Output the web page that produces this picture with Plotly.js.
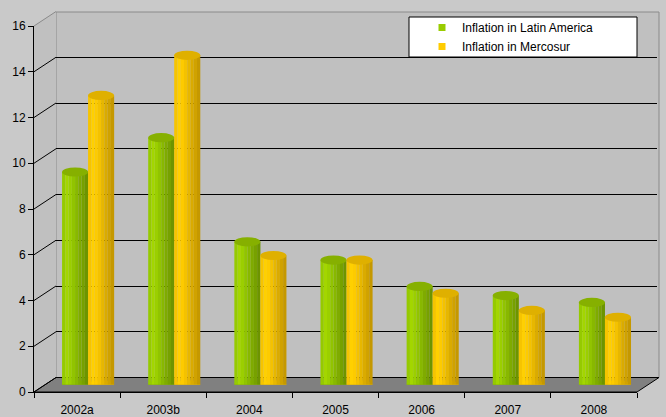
<!DOCTYPE html>
<html>
<head>
<meta charset="utf-8">
<script src="https://cdn.plot.ly/plotly-3.0.1.min.js"></script>
<style>html,body{margin:0;padding:0;background:#c9c9c9;}#chart{width:666px;height:417px;}</style>
</head>
<body>
<div id="chart"></div>
<script>
// ---- data ----
var categories = ['2002a', '2003b', '2004', '2005', '2006', '2007', '2008'];
var latinAmerica = [9.3, 10.8, 6.25, 5.45, 4.3, 3.9, 3.6];
var mercosur = [12.65, 14.4, 5.65, 5.45, 4.0, 3.25, 2.95];
var seriesNames = ['Inflation in Latin America', 'Inflation in Mercosur'];
var yTicks = [0, 2, 4, 6, 8, 10, 12, 14, 16];

// ---- styling ----
var W = 666, H = 417;
var mL = 34, mR = 9, mT = 11, mB = 25;
var pw = W - mL - mR, ph = H - mT - mB;
function px(x) { return (x - mL) / pw; }
function py(y) { return (H - mB - y) / ph; }
var depthX = 22, depthY = 14.5;
var frontRight = 637, frontTop = 26, frontBottom = 392;
var pxPerUnit = (frontBottom - frontTop) / 16;

var greenStripes = ['#95ca00', '#a3d600', '#9bcf00', '#91c400', '#88b800', '#7fab00', '#77a100', '#6d9400'];
var yellowStripes = ['#f6c400', '#ffd000', '#fdcb00', '#f4c200', '#e7b700', '#daab00', '#d0a200', '#c59800'];
var greenTop = '#86b000', yellowTop = '#dfb000';
var cylW = 0.302;
var traces = [];

// axis carriers (no visible marks)
traces.push({type: 'scatter', mode: 'none', x: categories, y: categories.map(function () { return null; }),
  xaxis: 'x', yaxis: 'y', showlegend: false, hoverinfo: 'skip'});
traces.push({type: 'scatter', mode: 'none', x: [null], y: [null],
  xaxis: 'x2', yaxis: 'y2', showlegend: false, hoverinfo: 'skip'});

function addCylinder(vals, stripes, startOff) {
  var n = stripes.length, sw = cylW / n;
  for (var i = 0; i < n; i++) {
    traces.push({
      type: 'bar', x: categories, y: vals, xaxis: 'x3', yaxis: 'y3',
      width: sw * 1.02, offset: startOff + i * sw,
      marker: {color: stripes[i], line: {width: 0}},
      showlegend: false, hoverinfo: 'skip'
    });
  }
}
addCylinder(latinAmerica, greenStripes, -cylW);
addCylinder(mercosur, yellowStripes, 0);

// legend entries
traces.push({type: 'scatter', mode: 'markers', x: [null], y: [null], name: seriesNames[0],
  marker: {symbol: 'square', size: 7, color: '#99cc00'}, xaxis: 'x3', yaxis: 'y3'});
traces.push({type: 'scatter', mode: 'markers', x: [null], y: [null], name: seriesNames[1],
  marker: {symbol: 'square', size: 7, color: '#ffcc00'}, xaxis: 'x3', yaxis: 'y3'});

var shapes = [];
// back wall
shapes.push({type: 'rect', xref: 'paper', yref: 'paper', layer: 'below',
  x0: px(frontRight + depthX) , x1: px(mL + depthX), y0: py(frontBottom - depthY), y1: py(frontTop - depthY + 0.5),
  fillcolor: '#c0c0c0', line: {color: '#8a8a8a', width: 1}});
// side wall
shapes.push({type: 'path', xref: 'paper', yref: 'paper', layer: 'below',
  path: 'M' + px(34) + ',' + py(frontBottom) + ' L' + px(34) + ',' + py(frontTop) + ' L' + px(34 + depthX) + ',' + py(frontTop - depthY) +
        ' L' + px(34 + depthX) + ',' + py(frontBottom - depthY) + ' Z',
  fillcolor: '#c0c0c0', line: {width: 0}});
// floor
shapes.push({type: 'path', xref: 'paper', yref: 'paper', layer: 'below',
  path: 'M' + px(34) + ',' + py(frontBottom) + ' L' + px(frontRight) + ',' + py(frontBottom) + ' L' + px(frontRight + depthX) + ',' + py(frontBottom - depthY) +
        ' L' + px(34 + depthX) + ',' + py(frontBottom - depthY) + ' Z',
  fillcolor: '#808080', line: {color: '#000000', width: 1}});
// side wall grid diagonals
yTicks.forEach(function (v) {
  var yf = frontBottom - v * pxPerUnit;
  shapes.push({type: 'line', xref: 'paper', yref: 'paper', layer: 'below',
    x0: px(34), y0: py(yf), x1: px(34 + depthX), y1: py(yf - depthY),
    line: {color: v === 16 ? '#8a8a8a' : '#000000', width: 1}});
});
// cylinder end caps (ellipses)
var hh = 4.6 / pxPerUnit;
function caps(vals, off, bodyColor, topColor) {
  for (var i = 0; i < vals.length; i++) {
    shapes.push({type: 'circle', xref: 'x3', yref: 'y3', layer: 'below',
      x0: i + off, x1: i + off + cylW, y0: -hh, y1: hh, fillcolor: bodyColor, line: {width: 0}});
    shapes.push({type: 'circle', xref: 'x3', yref: 'y3', layer: 'above',
      x0: i + off, x1: i + off + cylW, y0: vals[i] - hh, y1: vals[i] + hh, fillcolor: topColor, line: {width: 0}});
  }
}
caps(latinAmerica, -cylW, '#86b400', greenTop);
caps(mercosur, 0, '#e8b800', yellowTop);
// legend box
shapes.push({type: 'rect', xref: 'paper', yref: 'paper', layer: 'above',
  x0: px(409), x1: px(637), y0: py(57), y1: py(17), fillcolor: '#ffffff', line: {color: '#000000', width: 1}});

var font = {family: 'Arial, "Liberation Sans", sans-serif', size: 12, color: '#000000'};

var layout = {
  width: W, height: H,
  margin: {l: mL, r: mR, t: mT, b: mB, pad: 0},
  paper_bgcolor: '#c9c9c9', plot_bgcolor: 'rgba(0,0,0,0)',
  font: font, barmode: 'overlay', showlegend: true,
  xaxis: {domain: [0, px(frontRight)], anchor: 'y', type: 'category', categoryorder: 'array', categoryarray: categories,
    range: [-0.5, categories.length - 0.5], tickson: 'boundaries', ticks: 'outside', ticklen: 5, tickcolor: '#000',
    showline: true, linecolor: '#000', linewidth: 1, showgrid: false, zeroline: false, ticklabelstandoff: 7,
    tickfont: font, fixedrange: true},
  yaxis: {domain: [0, py(frontTop)], anchor: 'x', range: [0, 16], tickvals: yTicks, ticks: 'outside', ticklen: 5,
    tickcolor: '#000', showline: true, linecolor: '#000', linewidth: 1, showgrid: false, zeroline: false,
    tickfont: font, fixedrange: true},
  xaxis2: {domain: [px(34 + depthX), px(frontRight + depthX)], anchor: 'y2', range: [0, 1], showgrid: false, zeroline: false,
    showticklabels: false, ticks: '', showline: false, fixedrange: true},
  yaxis2: {domain: [py(frontBottom - depthY), py(frontTop - depthY)], anchor: 'x2', range: [0, 16], tickvals: yTicks.slice(1, -1),
    showgrid: true, gridcolor: '#000000', gridwidth: 1, showticklabels: false, ticks: '', zeroline: false, showline: false, fixedrange: true},
  xaxis3: {domain: [px(34 + depthX / 2), px(frontRight + depthX / 2)], anchor: 'y3', type: 'category', categoryorder: 'array',
    categoryarray: categories, range: [-0.5, categories.length - 0.5], visible: false, fixedrange: true},
  yaxis3: {domain: [py(frontBottom - depthY / 2), py(frontTop - depthY / 2)], anchor: 'x3', range: [0, 16], visible: false, fixedrange: true},
  legend: {x: px(422), xanchor: 'left', y: py(13), yanchor: 'top', bgcolor: 'rgba(0,0,0,0)', borderwidth: 0,
    font: font, tracegroupgap: 0, itemclick: false},
  shapes: shapes
};

Plotly.newPlot('chart', traces, layout, {displayModeBar: false, staticPlot: true});
</script>
</body>
</html>
